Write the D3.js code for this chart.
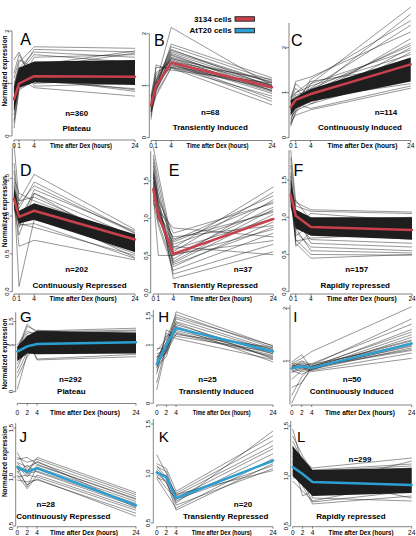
<!DOCTYPE html>
<html><head><meta charset="utf-8">
<script src="https://cdn.jsdelivr.net/npm/d3@7"></script>
<style>
body{margin:0;background:#fff}
svg{display:block}
text{font-family:"Liberation Sans",Arial,Helvetica,sans-serif;fill:#000}
</style>
</head><body>
<svg id="chart" width="416" height="536"></svg>
<script>
// ---------------- DATA ----------------
const times3134 = [0, 1, 4, 24];
const timesAtT20 = [0, 2, 4, 24];
const xTickLabels3134 = ["0", "1", "4", "24"];
const xTickLabelsAtT20 = ["0", "2", "4", "24"];
const panelLetters = ["A","B","C","D","E","F","G","H","I","J","K","L"];
const clusterNames = ["Plateau","Transiently Induced","Continuously Induced",
  "Continuously Repressed","Transiently Repressed","Rapidly repressed",
  "Plateau","Transiently Induced","Continuously Induced",
  "Continuously Repressed","Transiently Repressed","Rapidly repressed"];
const clusterSizes = [360, 68, 114, 202, 37, 157, 292, 25, 50, 28, 20, 299];
const cellLines = ["3134 cells", "AtT20 cells"];
const xAxisTitle = "Time after Dex (hours)";
const yAxisTitle = "Normalized expression";

// y ticks
const yTicksRow1 = [0, 1, 2];
const yTickLabelsRow1 = ["0", "1", "2"];
const yTicksRow2 = [0, 0.5, 1, 1.5];
const yTickLabelsRow2 = ["0.0", "0.5", "1.0", "1.5"];
const yTicksGH = [0, 1, 1.5];
const yTickLabelsGH = ["0", "1", "1.5"];
const yTicksI = [1, 2];
const yTickLabelsI = ["1", "2"];
const yTicksRow4 = [0.5, 1, 1.5];
const yTickLabelsRow4 = ["0.5", "1.0", "1.5"];

// cluster mean profiles
const meanA = [0.70, 1.00, 1.14, 1.13];
const meanB = [0.62, 1.00, 1.44, 0.97];
const meanC = [0.68, 0.84, 0.97, 1.63];
const meanD = [1.23, 0.99, 1.07, 0.69];
const meanE = [1.39, 1.04, 0.52, 0.99];
const meanF = [1.30, 1.02, 0.87, 0.83];
const meanG = [0.86, 0.97, 1.02, 1.06];
const meanH = [0.67, 1.00, 1.29, 0.89];
const meanI = [0.86, 0.90, 0.87, 1.33];
const meanJ = [1.10, 1.05, 1.09, 0.71];
const meanK = [1.01, 0.96, 0.75, 1.13];
const meanL = [1.09, 1.02, 0.94, 0.91];

// dense core (where most genes overlap): lower / upper profile
const coreLoA = [0.45, 0.92, 1.02, 0.97], coreHiA = [0.95, 1.30, 1.42, 1.45];
const coreLoC = [0.50, 0.65, 0.80, 1.25], coreHiC = [0.84, 0.90, 1.08, 1.78];
const coreLoD = [1.12, 0.90, 0.95, 0.52], coreHiD = [1.38, 1.07, 1.17, 0.76];
const coreLoF = [1.15, 0.85, 0.75, 0.70], coreHiF = [1.50, 1.10, 1.00, 1.00];
const coreLoG = [0.65, 0.82, 0.80, 0.82], coreHiG = [0.97, 1.20, 1.30, 1.27];
const coreLoL = [1.00, 0.90, 0.80, 0.83], coreHiL = [1.30, 1.18, 1.06, 1.08];

// individual gene profiles (visible strands)
const linesA = [
 [0.15,0.90,1.10,1.20],[0.30,1.00,1.20,1.15],[1.45,1.60,0.95,1.00],[1.20,1.55,1.00,1.10],
 [0.90,1.40,1.70,1.67],[0.80,1.20,1.65,1.60],[0.60,1.10,0.92,0.76],[0.50,1.00,1.50,1.55],
 [0.70,1.20,1.55,1.40],[1.00,1.30,1.60,1.50],[0.40,0.95,1.10,0.85],[0.25,0.88,1.05,0.90],
 [1.10,1.45,1.30,1.58],[0.55,1.05,1.35,1.62],[0.85,1.30,1.10,0.88]];
const linesB = [
 [0.35,1.05,2.12,1.00],[0.40,1.40,1.30,1.05],[0.80,1.35,1.35,0.95],[0.55,0.95,1.80,1.15],
 [0.60,1.00,1.75,1.10],[0.70,1.10,1.70,0.98],[0.65,1.05,1.65,1.05],[0.50,0.90,1.60,0.90],
 [0.60,0.95,1.55,1.00],[0.75,1.15,1.50,0.95],[0.55,0.90,1.45,0.85],[0.65,1.00,1.40,0.92],
 [0.70,1.05,1.38,1.02],[0.45,0.85,1.35,0.80],[0.60,1.00,1.42,0.70],[0.50,0.80,1.34,0.63],
 [0.72,1.20,1.52,1.08],[0.58,0.92,1.48,0.88],[0.68,1.08,1.58,0.96],[0.62,0.98,1.62,1.00],
 [0.52,0.95,1.44,0.75],[0.78,1.25,1.46,1.12],[0.66,1.02,1.36,0.98],[0.60,0.97,1.53,0.90],
 [0.50,1.00,1.68,1.06]];
const linesC = [
 [0.25,0.60,1.20,2.90],[0.30,0.55,1.00,2.75],[0.50,0.70,1.30,2.60],[0.70,0.90,1.10,2.50],
 [0.80,1.25,1.35,2.35],[0.90,1.20,0.90,2.20],[0.60,0.80,1.00,2.10],[0.40,0.65,0.80,2.00],
 [0.75,0.85,1.20,1.95],[0.85,1.10,0.75,1.90],[0.35,0.50,0.62,1.10],[0.55,0.75,0.65,1.15],
 [0.65,0.95,1.05,1.30],[0.78,1.00,1.15,1.85],[0.45,0.60,0.75,1.40],[0.80,0.70,0.90,1.50],
 [0.30,0.85,0.95,1.70],[0.88,1.00,1.25,1.60],[0.50,0.78,1.08,2.05],[0.62,0.72,0.88,1.20]];
const linesD = [
 [1.95,1.20,1.55,0.82],[1.70,1.10,1.45,0.78],[1.50,1.30,1.20,0.70],[1.30,0.07,0.95,0.60],
 [1.25,0.60,0.68,0.42],[1.15,0.75,1.30,0.55],[1.40,0.85,1.35,0.80],[1.35,1.20,1.25,0.65],
 [1.20,1.00,1.10,0.45],[1.60,0.95,1.00,0.50],[1.10,0.90,0.85,0.48],[1.28,1.05,1.15,0.74],
 [1.45,0.98,1.30,0.72],[1.18,0.88,0.90,0.44],[1.32,1.15,1.40,0.77]];
const linesE = [
 [1.96,1.60,0.60,1.42],[1.85,1.50,0.55,1.35],[1.75,1.30,0.70,1.30],[1.70,1.20,0.45,1.25],
 [1.65,1.25,0.80,1.20],[1.60,1.15,0.50,1.15],[1.55,1.10,0.65,1.10],[1.50,1.05,0.40,1.05],
 [1.45,1.00,0.58,1.00],[1.40,0.95,0.35,0.95],[1.35,1.05,0.75,0.90],[1.30,0.50,0.50,0.85],
 [1.25,0.90,0.30,0.80],[1.20,1.10,0.87,0.75],[1.55,1.20,0.25,0.65],[1.62,1.30,0.19,0.55],
 [1.48,1.00,0.62,0.51],[1.38,1.08,0.42,1.12],[1.80,1.40,0.52,0.70],[1.33,0.98,0.68,1.22],
 [1.42,1.12,0.38,0.88],[1.58,1.18,0.72,1.08]];
const linesF = [
 [1.90,1.20,1.10,1.07],[1.70,0.90,1.05,0.95],[1.60,0.65,0.45,0.50],[1.40,0.61,0.80,0.70],
 [1.25,0.70,0.50,0.49],[1.20,1.23,0.95,1.00],[1.35,0.80,0.60,0.55],[1.55,1.00,0.65,0.60],
 [1.30,0.75,0.90,0.85],[1.45,1.15,1.08,1.05],[1.15,0.95,0.70,0.65],[1.50,0.85,0.55,0.52],
 [1.80,1.10,0.98,0.92],[1.28,0.68,0.72,0.78]];
const linesG = [
 [0.05,0.80,0.95,1.00],[0.30,0.75,1.00,0.95],[0.50,1.00,1.10,1.10],[0.90,1.45,1.25,1.30],
 [0.85,1.40,1.30,1.36],[1.00,1.30,1.20,1.25],[0.70,1.20,0.70,0.80],[0.60,0.90,1.32,1.15],
 [0.80,1.10,0.68,0.75],[0.95,1.25,1.28,1.32],[0.40,0.85,1.05,0.90],[0.75,0.95,1.10,0.85]];
const linesH = [
 [0.23,0.95,1.20,0.80],[0.35,1.00,1.25,0.85],[0.50,1.26,1.15,0.88],[0.60,1.20,1.11,0.75],
 [0.94,0.95,1.57,0.98],[0.90,1.10,1.52,0.95],[0.85,0.90,1.48,0.99],[0.70,1.05,1.45,0.92],
 [0.80,0.85,1.40,0.90],[0.65,0.80,1.35,0.85],[0.75,1.00,1.30,0.71],[0.55,0.90,1.32,0.78],
 [0.72,1.15,1.22,0.82],[0.62,0.95,1.28,0.93],[0.78,1.05,1.38,0.76],[0.68,0.88,1.18,0.96]];
const linesI = [
 [0.20,0.60,0.85,1.30],[0.35,0.70,0.88,1.20],[0.50,0.58,0.90,1.40],[0.98,1.12,0.85,1.35],
 [0.95,1.05,1.18,2.03],[0.90,0.95,0.92,1.80],[0.85,0.90,0.95,1.70],[0.92,0.85,0.88,1.60],
 [0.88,0.98,0.90,1.55],[0.80,0.88,0.86,1.50],[0.82,0.75,0.83,1.45],[0.90,0.92,0.87,1.28],
 [0.87,0.80,0.84,1.25],[0.95,0.93,0.89,1.22],[0.78,0.85,0.82,1.15],[0.84,0.90,0.80,1.05],
 [0.65,0.82,0.90,1.38],[0.92,1.00,0.94,1.32]];
const linesJ = [
 [1.25,1.05,1.20,0.84],[1.20,1.15,1.18,0.82],[1.15,1.10,1.15,0.80],[1.12,1.00,1.12,0.78],
 [1.10,0.90,1.10,0.75],[1.08,1.08,1.08,0.73],[1.05,1.12,1.05,0.70],[1.02,0.88,1.02,0.68],
 [1.00,1.02,1.00,0.66],[0.97,0.95,0.97,0.63],[1.18,1.20,1.13,0.77],[1.14,1.03,1.06,0.72],
 [1.06,0.92,0.98,0.60],[1.11,1.06,1.16,0.69]];
const linesK = [
 [1.19,1.00,0.70,1.43],[1.10,1.05,0.82,1.38],[1.05,0.95,0.80,1.33],[1.00,0.98,0.78,1.28],
 [0.98,0.85,0.75,1.25],[1.03,0.90,0.72,1.20],[0.95,0.80,0.65,1.15],[1.07,1.02,0.77,1.12],
 [0.96,0.92,0.63,1.10],[1.02,0.97,0.74,1.08],[0.99,0.93,0.68,1.05],[1.08,0.96,0.79,1.03]];
const linesL = [
 [1.47,1.10,0.95,1.00],[1.40,1.20,1.05,1.10],[1.35,1.15,1.08,1.18],[1.30,0.90,0.72,0.80],
 [0.95,0.85,0.75,0.95],[1.20,1.05,0.78,0.75],[0.98,1.00,1.06,1.12],[1.15,0.80,0.85,0.88],
 [1.28,1.10,0.90,1.15],[1.05,0.95,0.74,0.85],[1.22,1.13,1.02,1.08],[1.10,0.92,0.98,0.78]];

// ---------------- LAYOUT ----------------
const RED = "#c8404c", BLUE = "#2c9fd2";
const panels = [
 {times:times3134, xl:xTickLabels3134, mean:meanA, lines:linesA, lo:coreLoA, hi:coreHiA, col:RED,
  x0:14, x1:135, ax:12, v:[0,2], p:[136,31], axis:[0,2], yt:yTicksRow1, ytl:yTickLabelsRow1,
  xAxisY:140, xLabY:148.3, let:[25.7,45,16], n:[76.7,116], nm:[76.7,130.5], xt:[81,62], yl:71},
 {times:times3134, xl:xTickLabels3134, mean:meanB, lines:linesB, col:RED,
  x0:151, x1:272, ax:149.3, v:[0,2], p:[137.7,33.7], axis:[0,2], yt:yTicksRow1, ytl:yTickLabelsRow1,
  xAxisY:140.5, xLabY:148.3, let:[159.3,46,16], n:[210.3,115], nm:[210.3,130], xt:[217.5,62]},
 {times:times3134, xl:xTickLabels3134, mean:meanC, lines:linesC, lo:coreLoC, hi:coreHiC, col:RED,
  x0:290.7, x1:410.7, ax:289, v:[0,2], p:[137.7,47.7], axis:[0,2.55], yt:yTicksRow1, ytl:yTickLabelsRow1,
  xAxisY:140.5, xLabY:148.3, let:[296.7,46,16], n:[386,115], nm:[360,130], xt:[362.5,70]},
 {times:times3134, xl:xTickLabels3134, mean:meanD, lines:linesD, lo:coreLoD, hi:coreHiD, col:RED,
  x0:14, x1:135, ax:12.3, v:[0,1.5], p:[291.7,178.2], axis:[0,1.9], yt:yTicksRow2, ytl:yTickLabelsRow2,
  xAxisY:294, xLabY:300.7, let:[25.7,175.7,16], n:[76.7,271.7], nm:[79.5,287.7], xt:[83,67], yl:211.7},
 {times:times3134, xl:xTickLabels3134, mean:meanE, lines:linesE, col:RED,
  x0:153.3, x1:273.3, ax:150.7, v:[0,1.5], p:[292.7,181], axis:[0,1.9], yt:yTicksRow2, ytl:yTickLabelsRow2,
  xAxisY:294, xLabY:300.7, let:[174,175.7,16], n:[243,271.7], nm:[215.3,287.7], xt:[221,62]},
 {times:times3134, xl:xTickLabels3134, mean:meanF, lines:linesF, lo:coreLoF, hi:coreHiF, col:RED,
  x0:290.7, x1:412, ax:289, v:[0,1.5], p:[291.7,180], axis:[0,1.9], yt:yTicksRow2, ytl:yTickLabelsRow2,
  xAxisY:294, xLabY:300.7, let:[298.5,175.7,16], n:[356.7,271.7], nm:[355.3,287.7], xt:[361.7,70]},
 {times:timesAtT20, xl:xTickLabelsAtT20, mean:meanG, lines:linesG, lo:coreLoG, hi:coreHiG, col:BLUE,
  x0:17.3, x1:136, ax:15.7, v:[0,1], p:[391.7,345], axis:[0,1.7], yt:yTicksGH, ytl:yTickLabelsGH,
  xAxisY:403.5, xLabY:415, let:[25.8,321.7,15], n:[70.5,382.3], nm:[71.3,394], xt:[85,70], yl:354},
 {times:timesAtT20, xl:xTickLabelsAtT20, mean:meanH, lines:linesH, col:BLUE,
  x0:156.7, x1:273, ax:153.3, v:[0,1], p:[403.3,345], axis:[0,1.6], yt:yTicksGH, ytl:yTickLabelsGH,
  xAxisY:405, xLabY:415, let:[163.7,321.7,15], n:[207.5,382.3], nm:[216.2,394], xt:[221.7,58]},
 {times:timesAtT20, xl:xTickLabelsAtT20, mean:meanI, lines:linesI, col:BLUE,
  x0:291.7, x1:411.7, ax:290, v:[1,2], p:[361,308.3], axis:[0.17,2.06], yt:yTicksI, ytl:yTickLabelsI,
  xAxisY:405, xLabY:415, let:[295.3,322.3,15], n:[352,382.3], nm:[351.7,394], xt:[360,70]},
 {times:timesAtT20, xl:xTickLabelsAtT20, mean:meanJ, lines:linesJ, col:BLUE,
  x0:17.3, x1:136, ax:15.7, v:[1,1.5], p:[477,428], axis:[0.5,1.55], yt:yTicksRow4, ytl:yTickLabelsRow4,
  xAxisY:526.7, xLabY:535, let:[23.3,442.3,15], n:[45.8,506.7], nm:[63.3,519.3], xt:[84,68], yl:461.5},
 {times:timesAtT20, xl:xTickLabelsAtT20, mean:meanK, lines:linesK, col:BLUE,
  x0:156.7, x1:273, ax:153.3, v:[1,1.5], p:[473.5,424], axis:[0.5,1.55], yt:yTicksRow4, ytl:yTickLabelsRow4,
  xAxisY:526.7, xLabY:535, let:[163.7,442.3,15], n:[243,506.7], nm:[225.7,519.3], xt:[221.7,60]},
 {times:timesAtT20, xl:xTickLabelsAtT20, mean:meanL, lines:linesL, lo:coreLoL, hi:coreHiL, col:BLUE,
  x0:292.7, x1:411.7, ax:290.7, v:[1,1.5], p:[476,426], axis:[0.5,1.55], yt:yTicksRow4, ytl:yTickLabelsRow4,
  xAxisY:526.7, xLabY:535, let:[301.2,442.3,15], n:[360,461.7], nm:[351,519.3], xt:[361,65]}
];

// ---------------- DRAW ----------------
const svg = d3.select("#chart");

panels.forEach((P, i) => {
  const g = svg.append("g");
  const x = d3.scaleLinear().domain([0, 24]).range([P.x0, P.x1]);
  const y = d3.scaleLinear().domain(P.v).range(P.p);
  const line = d3.line().x((d, k) => x(P.times[k])).y(d => y(d));

  // dense core
  if (P.lo) {
    const area = d3.area()
      .x((d, k) => x(P.times[k]))
      .y0((d, k) => y(P.lo[k]))
      .y1((d, k) => y(P.hi[k]));
    g.append("path").datum(P.lo).attr("d", area)
      .attr("fill", "#0d0d0d").attr("fill-opacity", 0.93);
  }
  // individual gene profiles
  g.append("g").selectAll("path").data(P.lines).join("path")
    .attr("d", line).attr("fill", "none")
    .attr("stroke", "#1e1e1e").attr("stroke-width", 0.55).attr("stroke-opacity", 0.85);
  // mean
  g.append("path").datum(P.mean).attr("d", line).attr("fill", "none")
    .attr("stroke", P.col).attr("stroke-width", 2.5)
    .attr("stroke-linejoin", "round").attr("stroke-linecap", "round");

  // y axis
  g.append("line").attr("x1", P.ax).attr("x2", P.ax)
    .attr("y1", y(P.axis[0])).attr("y2", y(P.axis[1]))
    .attr("stroke", "#333").attr("stroke-width", 0.6);
  P.yt.forEach((t, k) => {
    g.append("line").attr("x1", P.ax - 2.5).attr("x2", P.ax)
      .attr("y1", y(t)).attr("y2", y(t)).attr("stroke", "#333").attr("stroke-width", 0.6);
    g.append("text").attr("transform", `translate(${P.ax - 3},${y(t)}) rotate(-90)`)
      .attr("text-anchor", "middle").attr("font-size", 6).text(P.ytl[k]);
  });

  // x axis
  g.append("line").attr("x1", x(0)).attr("x2", x(24))
    .attr("y1", P.xAxisY).attr("y2", P.xAxisY)
    .attr("stroke", "#333").attr("stroke-width", 0.6);
  P.times.forEach((t, k) => {
    g.append("line").attr("x1", x(t)).attr("x2", x(t))
      .attr("y1", P.xAxisY).attr("y2", P.xAxisY + 2)
      .attr("stroke", "#333").attr("stroke-width", 0.6);
    g.append("text").attr("x", x(t)).attr("y", P.xLabY)
      .attr("text-anchor", "middle").attr("font-size", 6.5).text(P.xl[k]);
  });
  g.append("text").attr("x", P.xt[0]).attr("y", P.xLabY)
    .attr("text-anchor", "middle").attr("font-size", 6.5).attr("font-weight", "bold")
    .attr("textLength", P.xt[1]).attr("lengthAdjust", "spacingAndGlyphs")
    .text(xAxisTitle);

  if (P.yl) {
    g.append("text").attr("transform", `translate(6.5,${P.yl}) rotate(-90)`)
      .attr("text-anchor", "middle").attr("font-size", 6.5).attr("font-weight", "bold")
      .text(yAxisTitle);
  }

  // labels
  g.append("text").attr("x", P.let[0]).attr("y", P.let[1])
    .attr("text-anchor", "middle").attr("font-size", P.let[2]).text(panelLetters[i]);
  g.append("text").attr("x", P.n[0]).attr("y", P.n[1])
    .attr("text-anchor", "middle").attr("font-size", 8).attr("font-weight", "bold")
    .text("n=" + clusterSizes[i]);
  g.append("text").attr("x", P.nm[0]).attr("y", P.nm[1])
    .attr("text-anchor", "middle").attr("font-size", 8).attr("font-weight", "bold")
    .text(clusterNames[i]);
});

// legend
const legendColors = [RED, BLUE];
const legY = [21.7, 33.3];
cellLines.forEach((c, k) => {
  svg.append("text").attr("x", 231.7).attr("y", legY[k])
    .attr("text-anchor", "end").attr("font-size", 8).attr("font-weight", "bold").text(c);
  svg.append("rect").attr("x", 235).attr("y", legY[k] - 5).attr("width", 19.5).attr("height", 4.5)
    .attr("fill", legendColors[k]).attr("stroke", "#222").attr("stroke-width", 0.9);
});
</script>
</body></html>
